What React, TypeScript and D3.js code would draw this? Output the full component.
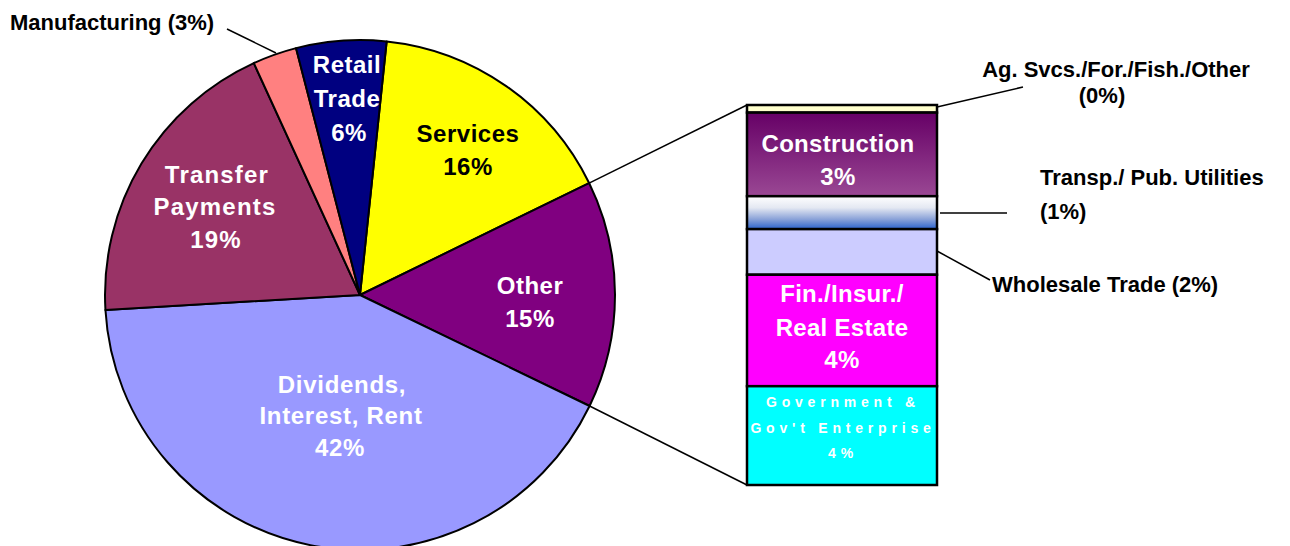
import React from "react";
import * as d3 from "d3";

const pieNames = ["Services", "Other", "Dividends, Interest, Rent", "Transfer Payments", "Manufacturing", "Retail Trade"];
const pieValues = [16.1, 14.4, 41.9, 19.1, 2.8, 5.7];
const pieColors = ["#ffff00", "#800080", "#9999ff", "#993366", "#ff8080", "#000080"];

const barNames = ["Ag. Svcs./For./Fish./Other", "Construction", "Transp./ Pub. Utilities", "Wholesale Trade", "Fin./Insur./Real Estate", "Government & Gov't Enterprise"];
const barValues = [0.3, 3.3, 1.3, 1.8, 4.4, 3.9];
const barFills = ["#ffffcc", "url(#gConstr)", "url(#gTransp)", "#ccccff", "#ff00ff", "#00ffff"];

const W = 1290, H = 546;
const cx = 360, cy = 295, R = 255;
const startDeg = 6;
const barX0 = 747, barX1 = 937, barY0 = 105, barY1 = 485;

const FONT = "'Liberation Sans', Arial, Helvetica, sans-serif";

export default function App() {
  const start = (startDeg * Math.PI) / 180;
  const pie = d3.pie<number>().sort(null).startAngle(start).endAngle(start + 2 * Math.PI);
  const arcs = pie(pieValues);
  const arcGen = d3.arc<d3.PieArcDatum<number>>().innerRadius(0).outerRadius(R);

  const pt = (a: number) => [cx + R * Math.sin(a), cy - R * Math.cos(a)];
  const otherArc = arcs[1];
  const pTop = pt(otherArc.startAngle);
  const pBot = pt(otherArc.endAngle);

  const total = d3.sum(barValues);
  const y = d3.scaleLinear().domain([0, total]).range([barY0, barY1]);
  const cum = d3.cumsum(barValues);
  const segs = barValues.map((v, i) => ({ y0: y(cum[i] - v), y1: y(cum[i]), fill: barFills[i] }));

  const white = { fill: "#ffffff", fontFamily: FONT, fontWeight: 700, fontSize: 24, textAnchor: "middle" as const };
  const black = { fill: "#000000", fontFamily: FONT, fontWeight: 700, fontSize: 22 };

  return (
    <svg width={W} height={H} style={{ position: "absolute", left: 0, top: 0, background: "#fff" }}>
      <defs>
        <linearGradient id="gConstr" x1="0" y1="0" x2="0" y2="1">
          <stop offset="0" stopColor="#660066" />
          <stop offset="1" stopColor="#9a4894" />
        </linearGradient>
        <linearGradient id="gTransp" x1="0" y1="0" x2="0" y2="1">
          <stop offset="0" stopColor="#ffffff" />
          <stop offset="0.35" stopColor="#e4e8f2" />
          <stop offset="0.7" stopColor="#8aa2d8" />
          <stop offset="1" stopColor="#2a62cc" />
        </linearGradient>
      </defs>

      {/* pie */}
      <g transform={`translate(${cx},${cy})`}>
        {arcs.map((a, i) => (
          <path key={i} d={arcGen(a) || ""} fill={pieColors[i]} stroke="#000" strokeWidth={2} strokeLinejoin="round" />
        ))}
      </g>

      {/* connector lines to bar */}
      <line x1={pTop[0]} y1={pTop[1]} x2={barX0} y2={barY0} stroke="#000" strokeWidth={1.5} />
      <line x1={pBot[0]} y1={pBot[1]} x2={barX0} y2={barY1} stroke="#000" strokeWidth={1.5} />

      {/* bar */}
      {segs.map((s, i) => (
        <rect key={i} x={barX0} y={s.y0} width={barX1 - barX0} height={s.y1 - s.y0} fill={s.fill} stroke="#000" strokeWidth={2.5} />
      ))}

      {/* pie labels */}
      <text style={{ ...white, fill: "#000" }} letterSpacing={0.5}>
        <tspan x={468} y={142}>Services</tspan>
        <tspan x={468} y={175}>16%</tspan>
      </text>
      <text style={white} letterSpacing={0.5}>
        <tspan x={347} y={73}>Retail</tspan>
        <tspan x={347} y={107}>Trade</tspan>
        <tspan x={349} y={141}>6%</tspan>
      </text>
      <text style={white} letterSpacing={1.2}>
        <tspan x={217} y={183}>Transfer</tspan>
        <tspan x={215} y={215}>Payments</tspan>
        <tspan x={216} y={248}>19%</tspan>
      </text>
      <text style={white} letterSpacing={0.5}>
        <tspan x={530} y={294}>Other</tspan>
        <tspan x={530} y={327}>15%</tspan>
      </text>
      <text style={white} letterSpacing={0.7}>
        <tspan x={342} y={393}>Dividends,</tspan>
        <tspan x={341} y={424}>Interest, Rent</tspan>
        <tspan x={340} y={456}>42%</tspan>
      </text>

      {/* bar labels */}
      <text style={white} letterSpacing={0.3}>
        <tspan x={838} y={152}>Construction</tspan>
        <tspan x={838} y={185}>3%</tspan>
      </text>
      <text style={white} letterSpacing={0.3}>
        <tspan x={842} y={302}>Fin./Insur./</tspan>
        <tspan x={842} y={336}>Real Estate</tspan>
        <tspan x={842} y={368}>4%</tspan>
      </text>
      <text style={{ ...white, fontSize: 14 }} letterSpacing={4.8}>
        <tspan x={843} y={407}>Government &amp;</tspan>
        <tspan x={843} y={433}>Gov't Enterprise</tspan>
        <tspan x={843} y={458}>4%</tspan>
      </text>

      {/* outside labels */}
      <text style={black} x={10} y={30}>Manufacturing (3%)</text>
      <line x1={227} y1={29} x2={276} y2={53} stroke="#000" strokeWidth={1.5} />

      <text style={{ ...black, textAnchor: "middle" }}>
        <tspan x={1116} y={77}>Ag. Svcs./For./Fish./Other</tspan>
        <tspan x={1102} y={103}>(0%)</tspan>
      </text>
      <line x1={barX1} y1={barY0 + 2} x2={1023} y2={87} stroke="#000" strokeWidth={1.5} />

      <text style={black}>
        <tspan x={1040} y={185}>Transp./ Pub. Utilities</tspan>
        <tspan x={1040} y={219}>(1%)</tspan>
      </text>
      <line x1={940} y1={213} x2={1007} y2={213} stroke="#000" strokeWidth={1.5} />

      <text style={black} x={992} y={292}>Wholesale Trade (2%)</text>
      <line x1={barX1} y1={251} x2={990} y2={280} stroke="#000" strokeWidth={1.5} />
    </svg>
  );
}
